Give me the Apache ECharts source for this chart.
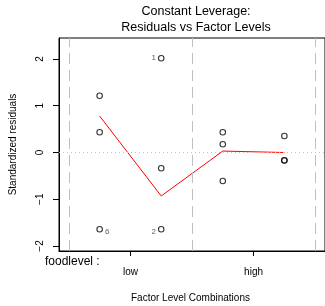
<!DOCTYPE html>
<html>
<head>
<meta charset="utf-8">
<script src="https://cdn.jsdelivr.net/npm/echarts@6/dist/echarts.min.js"></script>
<style>
  html, body { margin: 0; padding: 0; background: #fff; }
  #chart { width: 325px; height: 306px; }
</style>
</head>
<body>
<div id="chart"></div>
<script>
// residuals, grouped by factor level combination
const pointX = [0.25, 0.25, 0.25, 0.75, 0.75, 0.75, 1.25, 1.25, 1.25, 1.75, 1.75, 1.75];
const pointY = [1.215, 0.432, -1.643, 2.015, -0.338, -1.643, 0.432, 0.175, -0.61, 0.353, -0.167, -0.172];
const pointId = ['', '', '6', '1', '', '2', '', '', '', '', '', ''];
const labelSide = ['', '', 'right', 'left', '', 'left', '', '', '', '', '', ''];

// red smoother through the level means
const smoothX = [0.25, 0.75, 1.25, 1.75];
const smoothY = [0.78, -0.93, 0.03, 0.0];

const levelBounds = [0, 1, 2];
const levelNames = ['low', 'high'];
const levelCenters = [0.5, 1.5];
const yTicks = [-2, -1, 0, 1, 2];

const font = 'Liberation Sans, Arial, Helvetica, sans-serif';

const chart = echarts.init(document.getElementById('chart'));

const scatterData = pointX.map((x, i) => {
  const item = { value: [x, pointY[i]] };
  if (pointId[i]) {
    item.label = {
      show: true,
      formatter: pointId[i],
      position: labelSide[i],
      distance: 2,
      offset: pointId[i] === '1' ? [0, 0] : [0, 2]
    };
  }
  return item;
});

chart.setOption({
  animation: false,
  backgroundColor: '#fff',
  title: {
    text: 'Constant Leverage:\nResiduals vs Factor Levels',
    left: 191,
    top: -1,
    textAlign: 'center',
    textStyle: { fontFamily: font, fontSize: 12.5, fontWeight: 'normal', color: '#000', lineHeight: 16 }
  },
  graphic: [
    {
      type: 'text',
      left: 45,
      top: 256,
      style: { text: 'foodlevel :', font: '12px ' + font, fill: '#000' }
    },
    {
      type: 'text',
      left: 131,
      top: 293,
      style: { text: 'Factor Level Combinations', font: '10px ' + font, fill: '#000' }
    }
  ],
  grid: {
    left: 56,
    top: 38,
    width: 270,
    bottom: 55,
    show: true,
    borderColor: '#000',
    borderWidth: 1,
    containLabel: false
  },
  xAxis: {
    type: 'value',
    min: -0.08,
    max: 2.08,
    splitLine: { show: false },
    axisLine: { show: true, onZero: false, lineStyle: { color: '#000' } },
    axisTick: { show: true, length: 5, customValues: levelCenters, lineStyle: { color: '#000' } },
    axisLabel: {
      customValues: levelCenters,
      margin: 16,
      fontFamily: font,
      fontSize: 10,
      color: '#000',
      formatter: v => levelNames[Math.round(v - 0.5)]
    }
  },
  yAxis: {
    type: 'value',
    min: -2.107,
    max: 2.449,
    name: 'Standardized residuals',
    nameLocation: 'middle',
    nameGap: 41,
    nameRotate: 90,
    nameTextStyle: { fontFamily: font, fontSize: 10, color: '#000' },
    splitLine: { show: false },
    axisLine: { show: true, onZero: false, lineStyle: { color: '#000' } },
    axisTick: { show: true, length: 6, customValues: yTicks, lineStyle: { color: '#000' } },
    axisLabel: {
      customValues: yTicks,
      rotate: 90,
      margin: 14,
      fontFamily: font,
      fontSize: 10,
      color: '#000',
      formatter: v => (v < 0 ? '\u2212' + Math.abs(v) : String(v))
    }
  },
  series: [
    {
      type: 'line',
      data: [],
      silent: true,
      markLine: {
        symbol: 'none',
        silent: true,
        label: { show: false },
        data: levelBounds.map(b => ({ xAxis: b, lineStyle: { color: '#c0c0c0', type: [11, 6], width: 1 } }))
          .concat([{ yAxis: 0, lineStyle: { color: '#c0c0c0', type: [1, 3], width: 1 } }])
      }
    },
    {
      type: 'line',
      data: smoothX.map((x, i) => [x, smoothY[i]]),
      showSymbol: false,
      symbol: 'none',
      lineStyle: { color: '#ff0000', width: 1 },
      z: 3
    },
    {
      type: 'scatter',
      data: scatterData,
      symbol: 'circle',
      symbolSize: 5.5,
      itemStyle: { color: 'transparent', borderColor: '#000', borderWidth: 1.1 },
      label: { fontFamily: font, fontSize: 8, color: '#333' },
      z: 4
    }
  ]
});
</script>
</body>
</html>
